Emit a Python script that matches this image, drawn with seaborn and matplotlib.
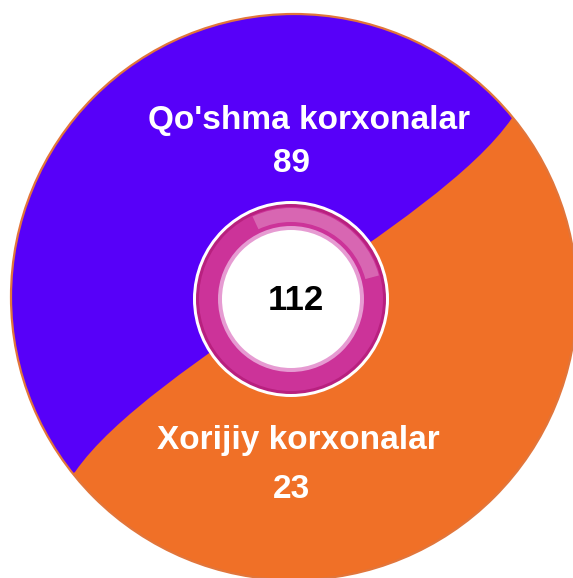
import numpy as np
import matplotlib
matplotlib.use("Agg")
import matplotlib.pyplot as plt
from matplotlib.patches import Circle, PathPatch, Wedge
from matplotlib.path import Path
import seaborn as sns

# data
categories = ["Qo'shma korxonalar", "Xorijiy korxonalar"]
counts = [89, 23]
total = sum(counts)

sns.set_theme(style="white")
plt.rcParams['font.family'] = ['Liberation Sans', 'DejaVu Sans']
colors = sns.color_palette(["#5700F9", "#F07027"])

fig = plt.figure(figsize=(5.73, 5.78), dpi=100)
ax = fig.add_axes([0, 0, 1, 1])
ax.set_xlim(0, 573)
ax.set_ylim(578, 0)
ax.axis('off')

# big disc (orange part underneath)
cx, cy, R = 294, 297, 283
disc = Circle((cx, cy), R, facecolor=colors[1], edgecolor='none', zorder=1)
ax.add_patch(disc)

# blue part bounded by an S-shaped curve
mx, my = 293.5, 295
verts = [(512, 118), (475, 172), (383.5, 234), (mx, my),
         (203.5, 356), (112, 418), (75, 472),
         (-145, 646), (-145, -100), (729, -100), (729, -62), (512, 118)]
codes = [Path.MOVETO, Path.CURVE4, Path.CURVE4, Path.CURVE4,
         Path.CURVE4, Path.CURVE4, Path.CURVE4,
         Path.LINETO, Path.LINETO, Path.LINETO, Path.LINETO, Path.CLOSEPOLY]
blue = PathPatch(Path(verts, codes), facecolor=colors[0], edgecolor='none', zorder=2)
ax.add_patch(blue)
blue.set_clip_path(disc)

# thin rim
ax.add_patch(Circle((cx, cy), R, facecolor='none', edgecolor='#E2753A', lw=1.6, zorder=3))

# centre ring
rx, ry = 291, 299
ax.add_patch(Circle((rx, ry), 98, facecolor='white', edgecolor='none', zorder=4))
ax.add_patch(Circle((rx, ry), 95, facecolor='#B8207F', edgecolor='none', zorder=5))
ax.add_patch(Circle((rx, ry), 92, facecolor='#CC3399', edgecolor='none', zorder=6))
ax.add_patch(Wedge((rx, ry), 91, 245, 345, width=14, facecolor='white', alpha=0.25,
                   edgecolor='none', zorder=7))
ax.add_patch(Circle((rx, ry), 73, facecolor='#E69BD2', edgecolor='none', zorder=8))
ax.add_patch(Circle((rx, ry), 69, facecolor='white', edgecolor='none', zorder=9))

# labels
ax.text(309, 120, categories[0], color='white', fontsize=24, fontweight='bold',
        ha='center', va='center', zorder=10)
ax.text(291, 163, str(counts[0]), color='white', fontsize=24, fontweight='bold',
        ha='center', va='center', zorder=10)
ax.text(298, 441, categories[1], color='white', fontsize=24, fontweight='bold',
        ha='center', va='center', zorder=10)
ax.text(291, 490, str(counts[1]), color='white', fontsize=24, fontweight='bold',
        ha='center', va='center', zorder=10)
ax.text(296, 300, str(total), color='black', fontsize=25, fontweight='bold',
        ha='center', va='center', zorder=10)

fig.savefig('out.png', dpi=100, facecolor='white')
